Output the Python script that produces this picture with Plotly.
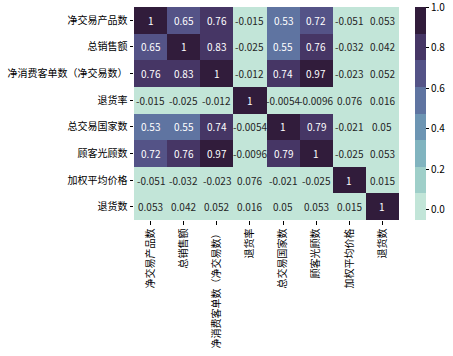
import numpy as np
import plotly.graph_objects as go

labels = ["净交易产品数", "总销售额", "净消费客单数（净交易数）", "退货率",
          "总交易国家数", "顾客光顾数", "加权平均价格", "退货数"]

corr = [
    [1, 0.65, 0.76, -0.015, 0.53, 0.72, -0.051, 0.053],
    [0.65, 1, 0.83, -0.025, 0.55, 0.76, -0.032, 0.042],
    [0.76, 0.83, 1, -0.012, 0.74, 0.97, -0.023, 0.052],
    [-0.015, -0.025, -0.012, 1, -0.0054, -0.0096, 0.076, 0.016],
    [0.53, 0.55, 0.74, -0.0054, 1, 0.79, -0.021, 0.05],
    [0.72, 0.76, 0.97, -0.0096, 0.79, 1, -0.025, 0.053],
    [-0.051, -0.032, -0.023, 0.076, -0.021, -0.025, 1, 0.015],
    [0.053, 0.042, 0.052, 0.016, 0.05, 0.053, 0.015, 1],
]
cbar_ticks = [0.0, 0.2, 0.4, 0.6, 0.8, 1.0]
vmin, vmax = -0.051, 1.0
n_colors = 8


def cubehelix(n, start=0.5, rot=-0.5, gamma=1.0, hue=0.8, light=0.85, dark=0.15):
    def f(p0, p1):
        def c(x):
            xg = x ** gamma
            a = hue * xg * (1 - xg) / 2
            phi = 2 * np.pi * (start / 3 + rot * x)
            return xg + a * (p0 * np.cos(phi) + p1 * np.sin(phi))
        return c
    r = f(-0.14861, 1.78277)
    g = f(-0.29227, -0.90649)
    b = f(1.97294, 0.0)
    out = []
    for x in np.linspace(light, dark, n):
        idx = min(int(x * 256), 255)
        xq = idx / 255
        rgb = [min(max(fn(xq), 0), 1) for fn in (r, g, b)]
        out.append("rgb(%d,%d,%d)" % tuple(round(v * 255) for v in rgb))
    return out


pal = cubehelix(n_colors)
cs = []
for i, c in enumerate(pal):
    cs.append([i / n_colors, c])
    cs.append([(i + 1) / n_colors, c])


def lum(c):
    vals = [int(v) / 255 for v in c[4:-1].split(",")]
    vals = [v / 12.92 if v <= 0.03928 else ((v + 0.055) / 1.055) ** 2.4 for v in vals]
    return 0.2126 * vals[0] + 0.7152 * vals[1] + 0.0722 * vals[2]


def color_for(v):
    k = int((v - vmin) / (vmax - vmin) * n_colors)
    k = max(0, min(n_colors - 1, k))
    return pal[k]


fig = go.Figure()
fig.add_trace(go.Heatmap(
    z=corr, x=labels, y=labels, zmin=vmin, zmax=vmax + 1e-6, colorscale=cs,
    showscale=True, hoverinfo="skip",
    colorbar=dict(
        x=(420 - 129) / 274, xanchor="left", xpad=0, xref="paper",
        y=0.5, yanchor="middle", len=1.0, lenmode="fraction", ypad=0,
        thickness=11, outlinewidth=0,
        tickmode="array", ticklabeloverflow="allow",
        tickvals=cbar_ticks, ticktext=["%.1f" % t for t in cbar_ticks],
        ticks="outside", ticklen=3.5, tickwidth=1, tickcolor="black",
        tickfont=dict(family="Noto Sans CJK SC", size=10, color="black"),
    ),
))

annotations = []
for i, row in enumerate(corr):
    for j, v in enumerate(row):
        c = color_for(v)
        tc = "white" if lum(c) < 0.408 else "#262626"
        annotations.append(dict(
            x=labels[j], y=labels[i], text=format(v, ".2g"), showarrow=False,
            font=dict(family="Noto Sans CJK SC", size=10, color=tc),
        ))

fig.update_layout(
    width=453, height=356,
    margin=dict(l=129, r=50, t=7, b=128),
    paper_bgcolor="white", plot_bgcolor="white",
    annotations=annotations,
    font=dict(family="Noto Sans CJK SC", size=10, color="black"),
    xaxis=dict(tickangle=-90, ticks="outside", ticklen=3.5, tickcolor="black",
               showgrid=False, zeroline=False, showline=False,
               tickfont=dict(size=10, color="black")),
    yaxis=dict(autorange="reversed", ticks="outside", ticklen=3.5, tickcolor="black",
               showgrid=False, zeroline=False, showline=False,
               tickfont=dict(size=10, color="black")),
)

fig.write_html("out.html")
